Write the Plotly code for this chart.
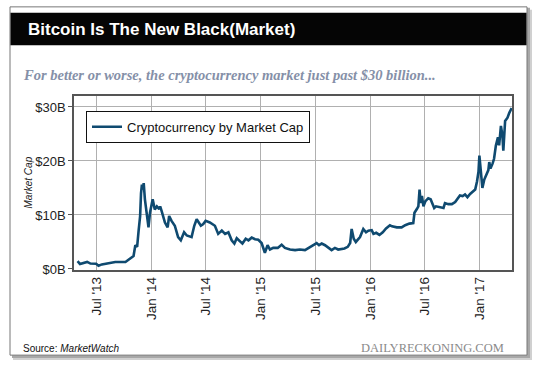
import plotly.graph_objects as go

# ---- data ----
dates = [
    "2013-04-28", "2013-05-06", "2013-05-30", "2013-06-10", "2013-06-29", "2013-07-07",
    "2013-07-18", "2013-08-10", "2013-09-01", "2013-10-05", "2013-10-16", "2013-11-01",
    "2013-11-07", "2013-11-13", "2013-11-18", "2013-11-23", "2013-11-26", "2013-11-29",
    "2013-12-02", "2013-12-05", "2013-12-09", "2013-12-15", "2013-12-21", "2013-12-26",
    "2014-01-04", "2014-01-11", "2014-01-18", "2014-01-26", "2014-01-29", "2014-02-03",
    "2014-02-14", "2014-02-23", "2014-02-28", "2014-03-08", "2014-03-19", "2014-03-30",
    "2014-04-08", "2014-04-19", "2014-04-28", "2014-05-14", "2014-05-23", "2014-05-31",
    "2014-06-08", "2014-06-14", "2014-06-22", "2014-06-30", "2014-07-14", "2014-07-31",
    "2014-08-11", "2014-08-23", "2014-09-03", "2014-09-14", "2014-09-25", "2014-10-04",
    "2014-10-12", "2014-10-23", "2014-10-31", "2014-11-11", "2014-11-20", "2014-12-01",
    "2014-12-12", "2014-12-23", "2015-01-03", "2015-01-14", "2015-01-23", "2015-01-31",
    "2015-02-11", "2015-02-26", "2015-03-11", "2015-03-22", "2015-04-08", "2015-04-25",
    "2015-05-11", "2015-05-28", "2015-06-14", "2015-07-06", "2015-07-14", "2015-07-23",
    "2015-08-03", "2015-08-14", "2015-08-25", "2015-09-05", "2015-09-16", "2015-10-07",
    "2015-10-18", "2015-10-26", "2015-10-31", "2015-11-07", "2015-11-14", "2015-11-28",
    "2015-12-09", "2015-12-18", "2015-12-26", "2016-01-06", "2016-01-12", "2016-01-21",
    "2016-02-01", "2016-02-12", "2016-02-23", "2016-03-07", "2016-03-14", "2016-03-30",
    "2016-04-15", "2016-04-27", "2016-05-11", "2016-05-24", "2016-05-28", "2016-06-05",
    "2016-06-10", "2016-06-14", "2016-06-18", "2016-06-22", "2016-06-27", "2016-07-03",
    "2016-07-13", "2016-07-21", "2016-07-28", "2016-08-02", "2016-08-08", "2016-08-22",
    "2016-09-02", "2016-09-07", "2016-09-18", "2016-09-30", "2016-10-11", "2016-10-27",
    "2016-11-05", "2016-11-13", "2016-11-21", "2016-11-30", "2016-12-17", "2016-12-23",
    "2016-12-28", "2016-12-31", "2017-01-05", "2017-01-10", "2017-01-16", "2017-01-22",
    "2017-01-30", "2017-02-02", "2017-02-06", "2017-02-13", "2017-02-18", "2017-02-24",
    "2017-03-03", "2017-03-07", "2017-03-13", "2017-03-18", "2017-03-21", "2017-03-27",
    "2017-04-04", "2017-04-10", "2017-04-18",
]
market_cap_b = [
    1.45, 0.9, 1.3, 1.0, 0.96, 0.6,
    0.85, 1.1, 1.3, 1.3, 1.8, 2.4,
    4.4, 4.1, 7.1, 9.8, 14.0, 15.6,
    14.7, 15.9, 12.9, 9.8, 7.7, 10.4,
    12.9, 11.0, 11.6, 11.1, 11.6, 10.7,
    8.6, 7.7, 9.8, 8.9, 8.0, 5.9,
    5.3, 6.8, 6.2, 5.9, 8.0, 9.2,
    8.6, 8.0, 8.3, 8.9, 8.6, 8.0,
    6.5, 7.1, 6.5, 6.8, 5.3, 4.7,
    5.7, 5.0, 4.7, 5.6, 5.3, 5.8,
    5.5, 5.4, 4.8, 3.0, 4.4, 3.6,
    3.9, 3.9, 4.5, 3.9, 3.6, 3.5,
    3.6, 3.5, 4.1, 4.8, 4.4, 4.7,
    4.4, 3.9, 3.5, 3.9, 3.6, 3.8,
    4.1, 4.8, 7.4, 5.6, 5.0, 5.9,
    7.4, 6.8, 7.1, 7.2, 6.5, 6.7,
    6.3, 6.8, 7.5, 8.1, 7.9, 7.7,
    7.7, 8.1, 8.4, 8.5, 10.4, 11.1,
    11.6, 14.7, 12.2, 13.5, 11.6, 12.5,
    13.1, 12.9, 12.0, 11.3, 11.6, 11.5,
    11.3, 12.2, 12.0, 12.0, 12.4, 13.6,
    13.5, 13.8, 13.3, 13.9, 14.7, 16.2,
    18.0, 21.0, 18.0, 15.0, 16.5, 17.4,
    18.3, 19.8, 18.6, 19.5, 20.4, 22.8,
    24.4, 22.9, 26.5, 24.7, 21.9, 27.4,
    28.0, 28.9, 29.8,
]
series_name = "Cryptocurrency by Market Cap"

x_tick_dates = ["2013-07-01", "2014-01-01", "2014-07-01", "2015-01-01",
                "2015-07-01", "2016-01-01", "2016-07-01", "2017-01-01"]
x_tick_labels = ["Jul '13", "Jan '14", "Jul '14", "Jan '15",
                 "Jul '15", "Jan '16", "Jul '16", "Jan '17"]
y_tick_values = [0, 10, 20, 30]
y_tick_labels = ["$0B", "$10B", "$20B", "$30B"]

title_text = "Bitcoin Is The New Black(Market)"
subtitle_text = "For better or worse, the cryptocurrency market just past $30 billion..."
y_title = "Market Cap"
source_text = "Source: <i>MarketWatch</i>"
brand_text = "DAILYRECKONING.COM"

# ---- layout helpers (pixel -> paper) ----
W, H = 540, 369
def px(x):
    return x / W
def py(y):
    return 1 - y / H

fig = go.Figure()
fig.add_trace(go.Scatter(
    x=dates, y=market_cap_b, mode="lines", name=series_name,
    line=dict(color="#0f4a70", width=2.6),
))

shapes = [
    # card shadow
    dict(type="rect", xref="paper", yref="paper", x0=px(13), x1=px(532), y0=py(367), y1=py(10),
         fillcolor="#d0d0d0", line=dict(width=0), layer="below"),
    dict(type="rect", xref="paper", yref="paper", x0=px(12), x1=px(530), y0=py(365), y1=py(8),
         fillcolor="#a8a8a8", line=dict(width=0), layer="below"),
    # card
    dict(type="rect", xref="paper", yref="paper", x0=px(10), x1=px(527), y0=py(362), y1=py(7),
         fillcolor="white", line=dict(color="#777777", width=1), layer="below"),
    # black header
    dict(type="rect", xref="paper", yref="paper", x0=px(10.5), x1=px(526.5), y0=py(46), y1=py(13),
         fillcolor="#050505", line=dict(width=0), layer="below"),
]

annotations = [
    dict(text=f"<b>{title_text}</b>", xref="paper", yref="paper", x=px(26), y=py(30),
         xanchor="left", yanchor="middle", showarrow=False,
         font=dict(family="Liberation Sans, Arial, sans-serif", size=17, color="white")),
    dict(text=f"<b><i>{subtitle_text}</i></b>", xref="paper", yref="paper", x=px(21), y=py(76),
         xanchor="left", yanchor="middle", showarrow=False,
         font=dict(family="Liberation Serif, Times New Roman, serif", size=14.5, color="#8590a8")),
    dict(text=f"<i>{y_title}</i>", xref="paper", yref="paper", x=px(28), y=py(186),
         xanchor="center", yanchor="middle", showarrow=False, textangle=-90,
         font=dict(family="Liberation Sans, Arial, sans-serif", size=10, color="#222222")),
    dict(text=source_text, xref="paper", yref="paper", x=px(21), y=py(355),
         xanchor="left", yanchor="middle", showarrow=False,
         font=dict(family="Liberation Sans, Arial, sans-serif", size=10, color="#111111")),
    dict(text=brand_text, xref="paper", yref="paper", x=px(506), y=py(355),
         xanchor="right", yanchor="middle", showarrow=False,
         font=dict(family="Liberation Serif, Times New Roman, serif", size=12.5, color="#8a8a8a")),
]

fig.update_layout(
    width=W, height=H,
    margin=dict(l=0, r=0, t=0, b=0),
    paper_bgcolor="white", plot_bgcolor="white",
    shapes=shapes, annotations=annotations,
    font=dict(family="Liberation Sans, Arial, sans-serif", size=13, color="#222222"),
    showlegend=True,
    legend=dict(x=px(86), y=py(113), xanchor="left", yanchor="top",
                bgcolor="white", bordercolor="#111111", borderwidth=1,
                font=dict(size=13, color="#111111"),
                itemwidth=30, tracegroupgap=0),
    xaxis=dict(
        domain=[px(74), px(512)],
        type="date", range=["2013-04-16", "2017-04-19"],
        tickmode="array", tickvals=x_tick_dates, ticktext=x_tick_labels,
        tickangle=-90, tickfont=dict(size=13.5, color="#222222"),
        showgrid=True, gridcolor="#b0b0b0", gridwidth=1,
        showline=True, linecolor="#555555", linewidth=1.5, mirror=True,
        ticks="", zeroline=False,
    ),
    yaxis=dict(
        domain=[py(275), py(98)],
        range=[-0.15, 32],
        tickmode="array", tickvals=y_tick_values, ticktext=y_tick_labels,
        tickfont=dict(size=13, color="#222222"),
        showgrid=True, gridcolor="#b0b0b0", gridwidth=1,
        showline=True, linecolor="#555555", linewidth=1.5, mirror=True,
        ticks="outside", ticklen=4, tickcolor="#555555", zeroline=False,
    ),
)

fig.write_html("out.html", config={"displayModeBar": False},
               post_script="document.body.style.margin='0';document.body.style.padding='0';")
